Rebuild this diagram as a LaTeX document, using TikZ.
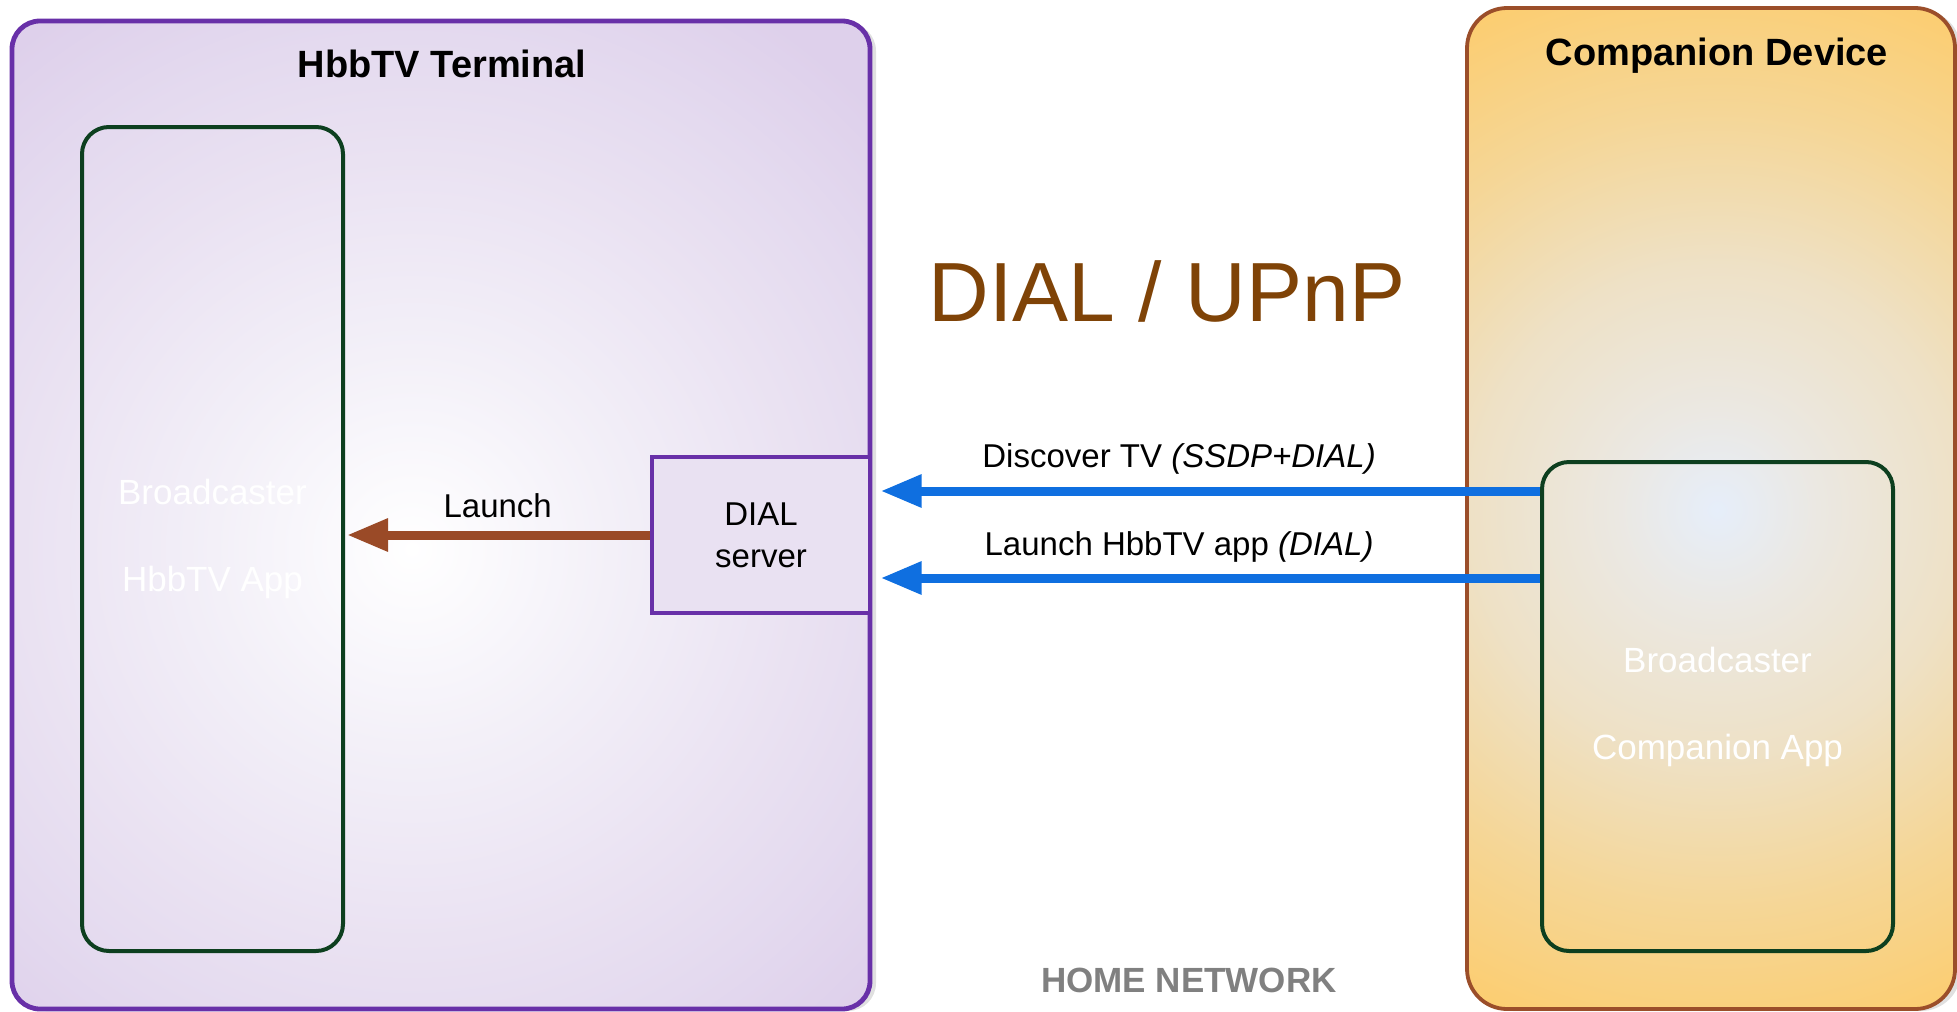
\documentclass[tikz,border=0pt]{standalone}
\usepackage{fontspec}
\setmainfont{Liberation Sans}
\usetikzlibrary{arrows.meta,shadows}

\definecolor{terminalpurple}{HTML}{6830A8}
\definecolor{terminallight}{HTML}{F3F0F8}
\definecolor{terminalmid}{HTML}{EAE2F2}
\definecolor{terminallav}{HTML}{E4DAEF}
\definecolor{terminaldark}{HTML}{DED0EB}
\definecolor{companionbrown}{HTML}{9B4E2A}
\definecolor{glowblue}{HTML}{E6EEFA}
\definecolor{companionpale}{HTML}{EBE8E2}
\definecolor{companionmid}{HTML}{EEE1C6}
\definecolor{companiontan}{HTML}{F5D696}
\definecolor{companionorange}{HTML}{FCCD70}
\definecolor{appgreen}{HTML}{0D3F1F}
\definecolor{dialfill}{HTML}{E9E1F2}
\definecolor{signalblue}{HTML}{0F6FE0}
\definecolor{launchbrown}{HTML}{9A4A27}
\definecolor{protocolbrown}{HTML}{7F4307}

\pgfdeclareradialshading{terminalglow}{\pgfpointorigin}{color(0bp)=(white); color(6.2bp)=(terminallight); color(12.2bp)=(terminalmid); color(16bp)=(terminallav); color(20bp)=(terminaldark); color(25bp)=(terminaldark)}
\pgfdeclareradialshading{companionglow}{\pgfpointorigin}{color(0bp)=(glowblue); color(4.2bp)=(companionpale); color(10.2bp)=(companionmid); color(16.7bp)=(companiontan); color(22.9bp)=(companionorange); color(25bp)=(companionorange)}

\begin{document}
\begin{tikzpicture}[x=0.5pt,y=-0.5pt,
	device/.style={draw, inner sep=0pt, drop shadow={shadow xshift=3pt, shadow yshift=-1pt, opacity=0.12, fill=black}},
	appbox/.style={draw=appgreen, line width=2pt, rounded corners=13.5pt, inner sep=0pt, align=center, text=white, font=\fontsize{17.5}{43.5}\selectfont},
	title/.style={anchor=base, font=\fontsize{19}{23}\selectfont\bfseries},
	msg/.style={anchor=base, text=black, font=\fontsize{16.5}{20}\selectfont},
	signal/.style={draw=signalblue, line width=4.5pt, shorten >=4.5pt, -{Triangle[length=20.5pt,width=15.5pt]}},
	launch/.style={draw=launchbrown, line width=4.5pt, shorten >=1pt, -{Triangle[length=20.5pt,width=15.5pt]}}]
	\useasboundingbox (0,0) rectangle (1957,1011);
	% Devices
	\node[device, draw=terminalpurple, fill=terminaldark, line width=2.4pt, rounded corners=14pt,
		path picture={\path[shading=terminalglow] ([xshift=-14.5pt,yshift=-17pt]path picture bounding box.center) circle[radius=400pt];},
		minimum width=429pt, minimum height=494pt] (terminal) at (441,515) {};
	\node[device, draw=companionbrown, fill=companionorange, line width=1.9pt, rounded corners=20pt,
		path picture={\path[shading=companionglow] ([xshift=3pt,yshift=-0.75pt]path picture bounding box.center) circle[radius=300pt];},
		minimum width=244pt, minimum height=500.5pt] (companion) at (1711,508.5) {};
	\node[title] (terminaltitle) at (442,78) {HbbTV Terminal};
	\node[title] (companiontitle) at (1717,66) {Companion Device};
	% Apps
	\node[appbox, minimum width=130.5pt, minimum height=412pt] (tvapp) at (212.5,539) {Broadcaster\\HbbTV App};
	\node[appbox, minimum width=175.5pt, minimum height=244.5pt] (companionapp) at (1717.5,706.5) {Broadcaster\\Companion App};
	\node[draw=terminalpurple, line width=1.6pt, fill=dialfill, inner sep=0pt, align=center,
		minimum width=109pt, minimum height=78pt, font=\fontsize{16.5}{21}\selectfont] (dialserver) at (761,535) {DIAL\\server};
	% Messages
	\coordinate (discover) at ([yshift=22pt]dialserver.east);
	\coordinate (request) at ([yshift=-21.5pt]dialserver.east);
	\draw[signal] (companionapp.west |- discover) -- (dialserver.east |- discover)
		node[msg, pos=0.54, yshift=12pt] {Discover TV \textit{(SSDP+DIAL)}};
	\draw[signal] (companionapp.west |- request) -- (dialserver.east |- request)
		node[msg, pos=0.54, yshift=11.5pt] {Launch HbbTV app \textit{(DIAL)}};
	\draw[launch] (dialserver.west) -- (tvapp.east |- dialserver.west)
		node[msg, midway, yshift=9pt] {Launch};
	% Labels
	\node[anchor=base, text=protocolbrown, font=\fontsize{42}{50}\selectfont] (protocol) at (1167,321) {DIAL / UPnP};
	\node[anchor=base, text=black!50, font=\fontsize{17.5}{21}\selectfont\bfseries] (network) at (1189,992) {HOME NETWORK};
\end{tikzpicture}
\end{document}
